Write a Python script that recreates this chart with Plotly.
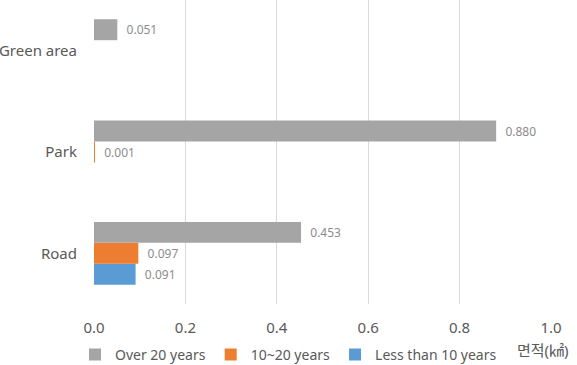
import plotly.graph_objects as go

categories = ["Road", "Park", "Green area"]
over20 = [0.453, 0.880, 0.051]
y10_20 = [0.097, 0.001, None]
less10 = [0.091, None, None]
x_ticks = [0.0, 0.2, 0.4, 0.6, 0.8, 1.0]

series = [
    ("Less than 10 years", less10, "#5B9BD5"),
    ("10~20 years", y10_20, "#ED7D31"),
    ("Over 20 years", over20, "#A5A5A5"),
]

font_family = "Noto Sans, Noto Sans CJK KR, sans-serif"

fig = go.Figure()
for name, vals, color in series:
    fig.add_trace(go.Bar(
        y=categories,
        x=[v if v is not None else 0 for v in vals],
        name=name,
        orientation="h",
        marker=dict(color=color, line=dict(width=0)),
        text=["  %.3f" % v if v is not None else "" for v in vals],
        textposition="outside",
        textfont=dict(color="#8C8C8C", size=12, family=font_family),
        cliponaxis=False,
    ))

fig.update_layout(
    width=577, height=365,
    margin=dict(l=94, r=26, t=0, b=61),
    barmode="group",
    bargap=0.38,
    bargroupgap=0,
    plot_bgcolor="white",
    paper_bgcolor="white",
    font=dict(family=font_family, size=15, color="#595959"),
    showlegend=True,
    legend=dict(
        orientation="h", traceorder="reversed",
        xref="container", yref="container",
        x=0.5, xanchor="center", y=0.028, yanchor="middle",
        font=dict(size=14, color="#595959"),
        itemwidth=30,
    ),
    xaxis=dict(
        range=[0, 1.0], tickvals=x_ticks, ticktext=["%.1f" % t for t in x_ticks],
        showgrid=True, gridcolor="#D9D9D9", gridwidth=1,
        zeroline=False, showline=False, ticks="",
        ticklabelstandoff=13,
        tickfont=dict(size=15),
    ),
    yaxis=dict(
        showgrid=False, zeroline=False, showline=False, ticks="",
        ticklabelstandoff=16,
    ),
    annotations=[dict(
        text="면적(㎢)", xref="paper", yref="paper",
        x=1.0, y=-0.15, xanchor="center", yanchor="middle",
        xshift=-8, showarrow=False,
        font=dict(size=15, color="#595959"),
    )],
)

fig.write_html("out.html")
